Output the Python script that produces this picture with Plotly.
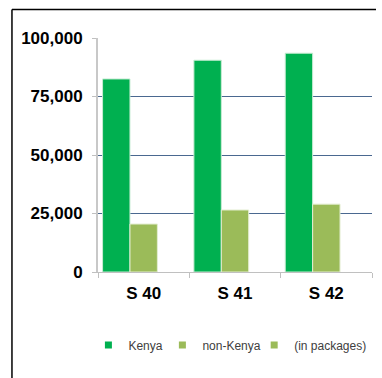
import plotly.graph_objects as go

categories = ["S 40", "S 41", "S 42"]
kenya = [82500, 90500, 93500]
non_kenya = [20500, 26500, 29000]
in_packages = [0, 0, 0]
series_names = ["Kenya", "non-Kenya", "(in packages)"]
series_colors = ["#00b050", "#9bbb59", "#9bbb59"]
tick_vals = [0, 25000, 50000, 75000, 100000]
tick_text = ["0", "25,000", "50,000", "75,000", "100,000"]

fig = go.Figure()
fig.add_trace(go.Bar(x=categories, y=kenya, name=series_names[0], showlegend=False,
                     marker=dict(color=series_colors[0], line=dict(color="#c8ecd4", width=1))))
fig.add_trace(go.Bar(x=categories, y=non_kenya, name=series_names[1], showlegend=False,
                     marker=dict(color=series_colors[1], line=dict(color="#e4eed2", width=1))))
fig.add_trace(go.Bar(x=categories, y=in_packages, name=series_names[2], showlegend=False,
                     marker=dict(color=series_colors[2], line=dict(width=0))))
legend_ids = ["legend", "legend2", "legend3"]
for name, col, lid in zip(series_names, series_colors, legend_ids):
    fig.add_trace(go.Scatter(x=[None], y=[None], mode="markers", name=name, legend=lid,
                             marker=dict(symbol="square", size=7, color=col)))

leg_common = dict(orientation="h", xanchor="left", y=-0.312, yanchor="middle",
                  font=dict(family="Liberation Sans, Arial", size=12, color="#404040"),
                  itemwidth=30, bgcolor="rgba(0,0,0,0)")

fig.update_layout(
    width=382, height=378,
    margin=dict(l=98, r=10, t=38, b=106),
    paper_bgcolor="white", plot_bgcolor="white",
    barmode="group", bargap=0.1, bargroupgap=0,
    showlegend=True,
    legend=dict(x=-0.035, **leg_common),
    legend2=dict(x=0.235, **leg_common),
    legend3=dict(x=0.57, **leg_common),
    font=dict(family="Liberation Sans, Arial", color="#000000"),
)
fig.update_xaxes(
    type="category", showgrid=False, showline=True, linecolor="#c0c0c0", linewidth=1,
    ticks="outside", tickson="boundaries", ticklen=5, tickcolor="#c0c0c0",
    tickfont=dict(family="Liberation Sans, Arial", size=17, color="#000000", weight="bold"),
    ticklabelstandoff=6,
)
fig.update_yaxes(
    range=[0, 100000], tickvals=tick_vals, ticktext=tick_text,
    showgrid=True, gridcolor="#4a6890", gridwidth=1,
    showline=True, linecolor="#c8c8c8", linewidth=2,
    ticks="outside", ticklen=4, tickcolor="#c0c0c0", zeroline=False,
    tickfont=dict(family="Liberation Sans, Arial", size=17, color="#000000", weight="bold"),
    ticklabelstandoff=6,
)
fig.add_shape(type="line", xref="paper", yref="paper", x0=-0.314, x1=1.0146, y0=1.122, y1=1.122,
              line=dict(color="#000000", width=1.5))
fig.add_shape(type="line", xref="paper", yref="paper", x0=-0.314, x1=-0.314, y0=1.122, y1=-0.47,
              line=dict(color="#000000", width=1.5))

fig.write_html("out.html")
